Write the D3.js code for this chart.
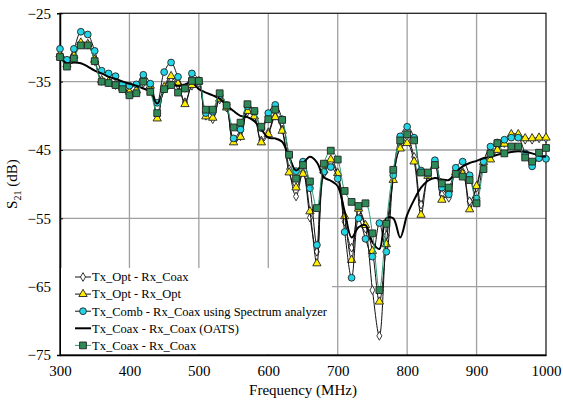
<!DOCTYPE html>
<html>
<head>
<meta charset="utf-8">
<script src="https://cdn.jsdelivr.net/npm/d3@7"></script>
<style>
  body { margin: 0; background: #fff; }
  text { font-family: "Liberation Serif", "Times New Roman", serif; fill: #000; }
</style>
</head>
<body>
<svg id="chart" width="563" height="400"></svg>
<script>
var freq = [300,310,320,330,340,350,360,370,380,390,400,410,420,430,440,450,460,470,480,490,
  500,510,520,530,540,550,560,570,580,590,600,610,620,630,640,650,660,670,680,690,
  700,710,720,730,740,750,760,770,780,790,800,810,820,830,840,850,860,870,880,890,
  900,910,920,930,940,950,960,970,980,990,1000];

// Tx_Opt - Rx_Coax (open diamonds)
var optCoax = [-31.2,-32.6,-31.4,-29.5,-29.6,-32.0,-34.9,-35.1,-35.5,-36.0,-36.6,-36.4,-35.2,-35.8,-40.0,-36.0,-34.5,-35.5,-38.0,-35.6,
  -35.2,-40.0,-40.5,-37.6,-38.8,-43.6,-43.0,-39.4,-40.2,-43.6,-42.4,-40.0,-42.0,-47.8,-51.8,-48.2,-54.9,-59.9,-48.5,-46.8,
  -48.8,-55.5,-59.3,-54.0,-56.5,-65.5,-72.2,-57.5,-49.0,-44.5,-43.5,-46.0,-53.0,-48.6,-47.0,-51.5,-52.0,-48.0,-48.2,-52.5,
  -50.5,-46.8,-46.0,-44.8,-44.0,-42.9,-42.9,-43.5,-43.5,-43.3,-43.3];

// Tx_Opt - Rx_Opt (yellow triangles)
var optOpt = [-31.0,-32.5,-31.2,-29.3,-29.5,-31.8,-34.8,-35.0,-35.4,-35.9,-36.5,-36.3,-35.0,-35.6,-40.4,-35.8,-34.2,-35.3,-38.3,-35.5,
  -35.0,-40.1,-40.3,-37.5,-38.8,-43.9,-43.1,-39.3,-40.1,-43.9,-42.7,-40.2,-42.2,-48.3,-50.5,-48.5,-54.0,-61.6,-48.0,-46.4,
  -48.4,-54.7,-61.1,-53.6,-56.0,-59.8,-67.2,-58.8,-49.4,-44.8,-44.0,-46.7,-54.5,-48.8,-47.2,-52.3,-50.8,-48.3,-48.5,-53.7,
  -50.3,-46.8,-46.4,-45.0,-44.1,-42.7,-42.7,-43.3,-43.3,-43.2,-43.2];

// Tx_Comb - Rx_Coax using Spectrum analyzer (cyan circles)
var combCoax = [-30.2,-31.8,-30.2,-27.7,-28.1,-30.5,-33.4,-33.8,-34.2,-35.4,-35.6,-35.4,-34.0,-35.3,-38.1,-33.6,-32.2,-34.3,-36.0,-33.8,
  -34.8,-39.6,-39.4,-37.0,-38.4,-43.3,-42.0,-38.6,-39.4,-41.8,-39.6,-38.4,-40.5,-45.7,-48.1,-46.7,-50.6,-58.9,-48.2,-47.5,
  -49.2,-57.0,-63.7,-55.0,-58.0,-60.6,-55.7,-59.9,-48.7,-43.0,-41.6,-43.2,-48.0,-48.5,-46.5,-50.5,-51.5,-47.6,-46.7,-48.7,
  -52.1,-46.7,-44.5,-43.9,-43.5,-43.2,-43.2,-45.5,-47.4,-46.2,-46.3];

// Tx_Coax - Rx_Coax (OATS), solid line
var coaxOats = [-31.5,-32.3,-32.2,-32.3,-32.8,-33.4,-33.8,-34.3,-34.6,-35.0,-35.3,-35.6,-36.0,-36.5,-38.2,-36.3,-35.4,-35.6,-35.4,-35.1,
  -36.1,-36.6,-37.0,-37.5,-38.5,-39.3,-40.0,-40.2,-40.8,-42.0,-43.2,-43.3,-43.8,-46.0,-48.0,-47.0,-46.0,-46.8,-49.0,-49.5,
  -50.3,-54.0,-57.8,-56.3,-56.0,-58.5,-59.5,-55.0,-55.0,-57.8,-54.5,-52.3,-50.5,-49.5,-49.1,-49.3,-49.4,-48.3,-47.4,-46.9,
  -46.6,-46.2,-46.0,-45.7,-45.5,-45.3,-45.2,-45.3,-45.5,-45.8,-46.0];

// Tx_Coax - Rx_Coax (green squares)
var coaxCoax = [-31.4,-32.8,-31.6,-29.7,-29.7,-32.0,-35.0,-35.2,-35.5,-36.1,-37.0,-36.7,-35.0,-36.5,-39.6,-36.1,-35.5,-36.6,-36.0,-34.9,
  -34.9,-39.1,-39.1,-36.7,-38.5,-41.7,-41.0,-38.3,-39.3,-41.6,-40.5,-39.1,-40.6,-45.7,-49.2,-47.2,-49.6,-53.5,-47.0,-45.1,
  -46.4,-51.0,-52.6,-53.2,-52.8,-57.2,-65.5,-55.8,-47.9,-43.6,-42.7,-43.6,-48.3,-48.3,-47.2,-49.9,-50.5,-48.5,-48.9,-49.4,
  -52.8,-47.8,-45.5,-44.0,-45.5,-44.5,-44.5,-46.1,-46.7,-45.4,-44.7];

var xTicks = [300,400,500,600,700,800,900,1000];
var yTicks = [-75,-65,-55,-45,-35,-25];

var seriesNames = ["Tx_Opt - Rx_Coax", "Tx_Opt - Rx_Opt", "Tx_Comb - Rx_Coax using Spectrum analyzer",
  "Tx_Coax - Rx_Coax (OATS)", "Tx_Coax - Rx_Coax"];

var svg = d3.select("#chart");
var pLeft = 60, pRight = 546, pTop = 13.3, pBottom = 355;

var x = d3.scaleLinear().domain([300, 1000]).range([pLeft, pRight]);
var y = d3.scaleLinear().domain([-75, -25]).range([pBottom, pTop]);

// grid
svg.append("g").selectAll("line").data(xTicks.slice(1, -1)).enter().append("line")
  .attr("x1", d => x(d)).attr("x2", d => x(d)).attr("y1", pTop).attr("y2", pBottom)
  .attr("stroke", "#a0a0a0").attr("stroke-width", 1.3);
svg.append("g").selectAll("line").data(yTicks.slice(1, -1)).enter().append("line")
  .attr("x1", pLeft).attr("x2", pRight).attr("y1", d => y(d)).attr("y2", d => y(d))
  .attr("stroke", "#a0a0a0").attr("stroke-width", 1.3);

// frame
svg.append("rect").attr("x", pLeft).attr("y", pTop).attr("width", pRight - pLeft).attr("height", pBottom - pTop)
  .attr("fill", "none").attr("stroke", "#222").attr("stroke-width", 1.3);

// axes labels
var xAxis = svg.append("g").attr("transform", "translate(0," + pBottom + ")")
  .call(d3.axisBottom(x).tickValues(xTicks).tickSize(0).tickPadding(10).tickFormat(d3.format("d")));
xAxis.select(".domain").attr("stroke", "#000").attr("stroke-width", 1.5);
xAxis.selectAll("text").style("font-size", "15px").style("font-family", "Liberation Serif");

var yAxis = svg.append("g").attr("transform", "translate(" + pLeft + ",0)")
  .call(d3.axisLeft(y).tickValues(yTicks).tickSize(3).tickPadding(6).tickFormat(d3.format("d")));
yAxis.select(".domain").attr("stroke", "#000").attr("stroke-width", 1.5);
yAxis.selectAll(".tick line").attr("x2", 3).attr("stroke", "#000");
yAxis.selectAll("text").style("font-size", "15px").style("font-family", "Liberation Serif");

svg.append("text").attr("x", (pLeft + pRight) / 2).attr("y", 395).attr("text-anchor", "middle")
  .style("font-size", "15px").text("Frequency (MHz)");

var yl = svg.append("text").attr("transform", "translate(17," + ((pTop + pBottom) / 2) + ") rotate(-90)")
  .attr("text-anchor", "middle").style("font-size", "15px");
yl.append("tspan").text("S");
yl.append("tspan").attr("dy", 4).style("font-size", "10px").text("21");
yl.append("tspan").attr("dy", -4).text(" (dB)");

// series
var curve = d3.curveCatmullRom.alpha(0.5);
function lineOf(vals) {
  return d3.line().curve(curve).x((d, i) => x(freq[i])).y(d => y(d))(vals);
}

var diamond = d3.symbol().type(d3.symbolDiamond).size(22)();
var tri = d3.symbol().type(d3.symbolTriangle).size(30)();
var circ = d3.symbol().type(d3.symbolCircle).size(36)();
var sq = d3.symbol().type(d3.symbolSquare).size(46)();

function drawSeries(vals, stroke, width, marker, fill, msw) {
  var g = svg.append("g");
  g.append("path").attr("d", lineOf(vals)).attr("fill", "none")
    .attr("stroke", stroke).attr("stroke-width", width);
  if (!marker) return;
  g.selectAll("path.m").data(vals).enter().append("path")
    .attr("class", "m")
    .attr("d", marker)
    .attr("transform", (d, i) => "translate(" + x(freq[i]) + "," + y(d) + ")")
    .attr("fill", fill).attr("stroke", "#222").attr("stroke-width", msw);
}

drawSeries(optCoax, "#111", 1, diamond, "#fff", 0.9);
drawSeries(optOpt, "#111", 1, tri, "#ffee00", 0.9);
drawSeries(combCoax, "#111", 1, circ, "#22d6e8", 0.9);
drawSeries(coaxOats, "#000", 2, null);
drawSeries(coaxCoax, "#2e9a72", 1, sq, "#2e8b57", 0.9);

// legend
var lg = svg.append("g");
lg.append("rect").attr("x", pLeft + 1).attr("y", 268).attr("width", 271).attr("height", pBottom - 268 - 1)
  .attr("fill", "#fff");
var legendMarkers = [
  {m: diamond, fill: "#fff", stroke: "#111"},
  {m: tri, fill: "#ffee00", stroke: "#111"},
  {m: circ, fill: "#22d6e8", stroke: "#111"},
  {m: null, fill: null, stroke: "#000"},
  {m: sq, fill: "#2e8b57", stroke: "#2e9a72"}
];
seriesNames.forEach(function(name, i) {
  var cy = 277 + i * 17.1;
  var it = legendMarkers[i];
  lg.append("line").attr("x1", 75).attr("x2", 91).attr("y1", cy).attr("y2", cy)
    .attr("stroke", it.stroke).attr("stroke-width", it.m ? 1 : 2);
  if (it.m) {
    lg.append("path").attr("d", it.m).attr("transform", "translate(83," + cy + ")")
      .attr("fill", it.fill).attr("stroke", "#222").attr("stroke-width", 0.9);
  }
  lg.append("text").attr("x", 92).attr("y", cy).attr("dy", "0.35em")
    .style("font-size", "12.5px").text(name);
});
</script>
</body>
</html>
